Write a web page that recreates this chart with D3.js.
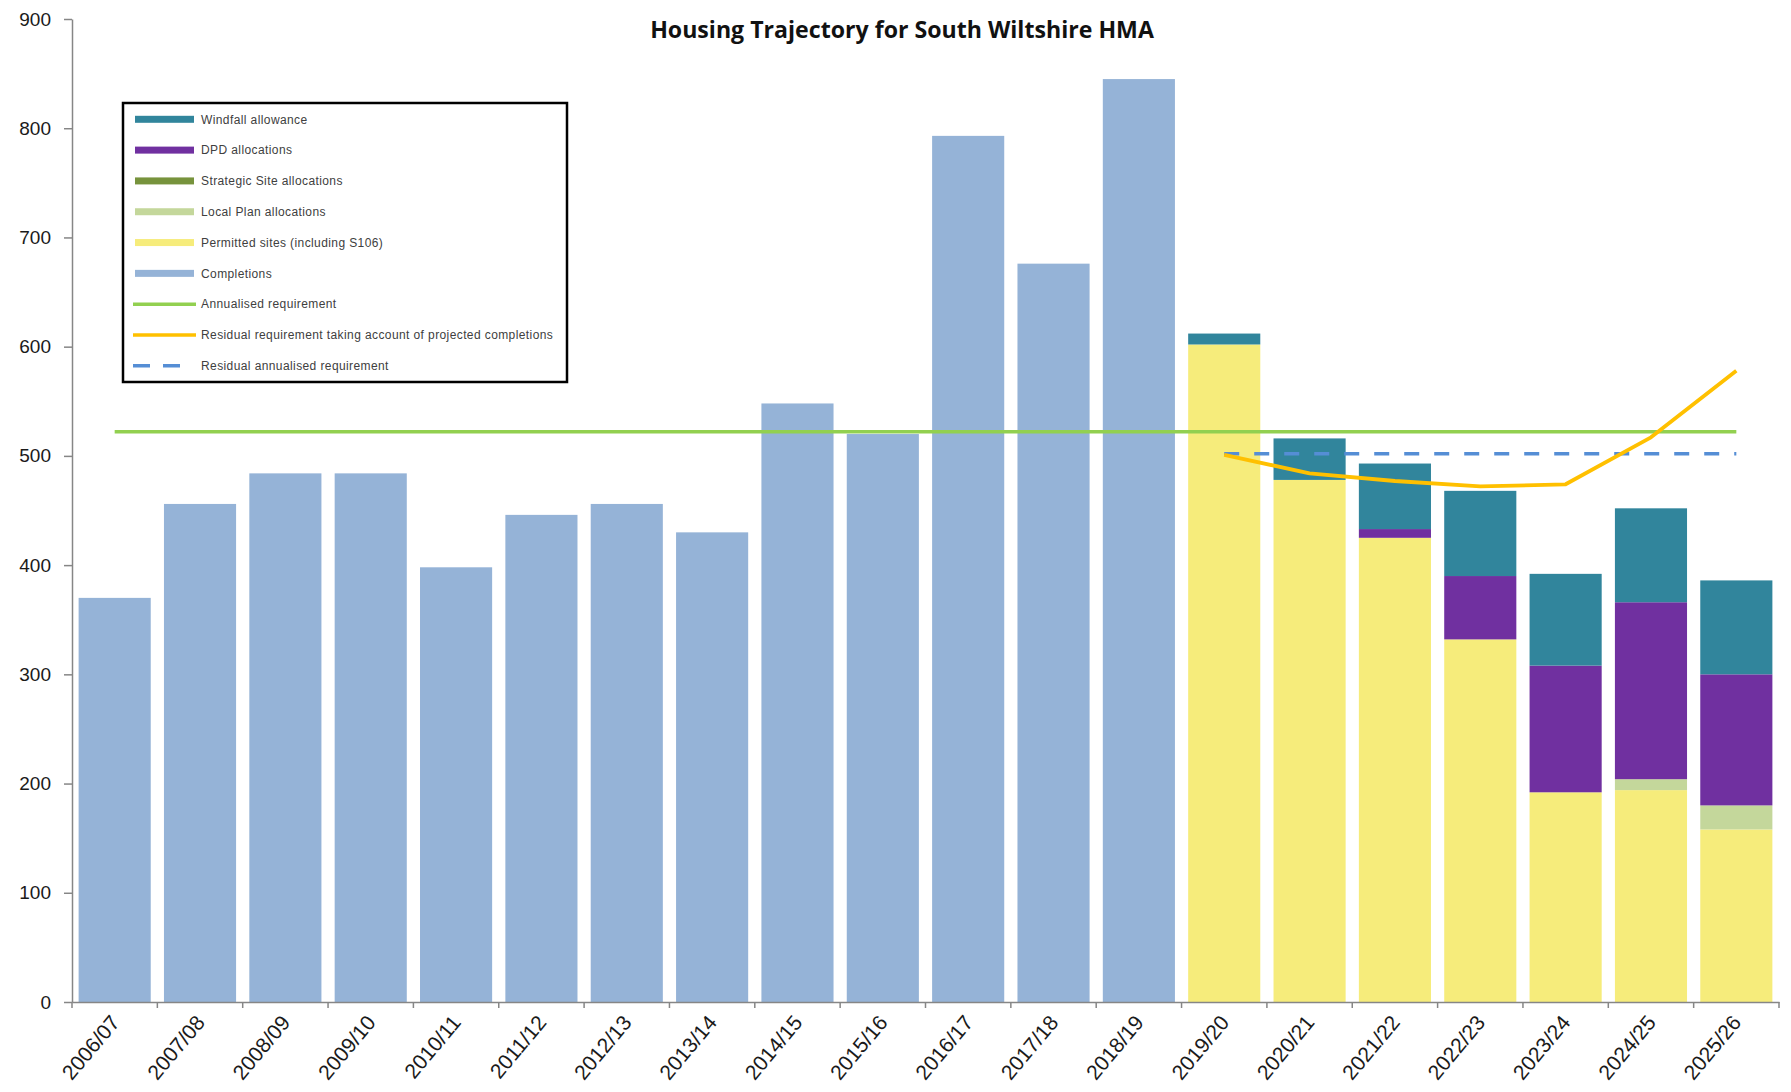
<!DOCTYPE html>
<html>
<head>
<meta charset="utf-8">
<title>Housing Trajectory for South Wiltshire HMA</title>
<script src="https://cdn.jsdelivr.net/npm/d3@7"></script>
<style>
  body { margin: 0; background: #ffffff; }
  svg { display: block; }
</style>
</head>
<body>
<svg id="chart" width="1791" height="1092"></svg>
<script>
// ---- Data -------------------------------------------------------------
const years = ["2006/07","2007/08","2008/09","2009/10","2010/11","2011/12","2012/13",
               "2013/14","2014/15","2015/16","2016/17","2017/18","2018/19","2019/20",
               "2020/21","2021/22","2022/23","2023/24","2024/25","2025/26"];

// Stacked bar components (dwellings per year)
const completions   = [370,456,484,484,398,446,456,430,548,520,793,676,845,0,0,0,0,0,0,0];
const permitted     = [0,0,0,0,0,0,0,0,0,0,0,0,0,602,478,425,332,192,194,158];
const localPlan     = [0,0,0,0,0,0,0,0,0,0,0,0,0,0,0,0,0,0,10,22];
const strategicSite = [0,0,0,0,0,0,0,0,0,0,0,0,0,0,0,0,0,0,0,0];
const dpd           = [0,0,0,0,0,0,0,0,0,0,0,0,0,0,0,8,58,116,162,120];
const windfall      = [0,0,0,0,0,0,0,0,0,0,0,0,0,10,38,60,78,84,86,86];

// Requirement lines
const annualised = [522,522,522,522,522,522,522,522,522,522,522,522,522,522,522,522,522,522,522,522];
const residualYears = ["2019/20","2020/21","2021/22","2022/23","2023/24","2024/25","2025/26"];
const residual           = [501,484,477,472,474,517,578];
const residualAnnualised = [502,502,502,502,502,502,502];

const yTicks = [0,100,200,300,400,500,600,700,800,900];

// ---- Series definitions (bottom to top) ----------------------------------
const barSeries = [
  { key: "completions",   label: "Completions",                      color: "#95B3D7", values: completions },
  { key: "permitted",     label: "Permitted sites (including S106)", color: "#F6EC7B", values: permitted },
  { key: "localPlan",     label: "Local Plan allocations",           color: "#C4D79B", values: localPlan },
  { key: "strategicSite", label: "Strategic Site allocations",       color: "#77933C", values: strategicSite },
  { key: "dpd",           label: "DPD allocations",                  color: "#7030A0", values: dpd },
  { key: "windfall",      label: "Windfall allowance",               color: "#31859C", values: windfall }
];

const legendItems = [
  { label: "Windfall allowance",                 type: "bar",  color: "#31859C" },
  { label: "DPD allocations",                    type: "bar",  color: "#7030A0" },
  { label: "Strategic Site allocations",         type: "bar",  color: "#77933C" },
  { label: "Local Plan allocations",             type: "bar",  color: "#C4D79B" },
  { label: "Permitted sites (including S106)",   type: "bar",  color: "#F6EC7B" },
  { label: "Completions",                        type: "bar",  color: "#95B3D7" },
  { label: "Annualised requirement",             type: "line", color: "#92D050" },
  { label: "Residual requirement taking account of projected completions", type: "line", color: "#FFC000" },
  { label: "Residual annualised requirement",    type: "dash", color: "#558ED5" }
];

// ---- Layout -------------------------------------------------------------
const svg = d3.select("#chart");
const plot = { left: 72, right: 1779, top: 19, bottom: 1002 };

const x = d3.scaleBand()
  .domain(years)
  .range([plot.left, plot.right])
  .paddingInner(0.155)
  .paddingOuter(0.0775);

const y = d3.scaleLinear()
  .domain([0, 900])
  .range([plot.bottom, plot.top]);

// ---- Stacked bars ---------------------------------------------------------
const table = years.map((yr, i) => {
  const row = { year: yr };
  barSeries.forEach(s => { row[s.key] = s.values[i]; });
  return row;
});
const stack = d3.stack().keys(barSeries.map(s => s.key));
const stacked = stack(table);

svg.append("g").attr("class", "bars")
  .selectAll("g")
  .data(stacked)
  .join("g")
    .attr("fill", (d, i) => barSeries[i].color)
  .selectAll("rect")
  .data(d => d.filter(p => p[1] - p[0] > 0))
  .join("rect")
    .attr("x", d => x(d.data.year))
    .attr("width", x.bandwidth())
    .attr("y", d => y(d[1]))
    .attr("height", d => y(d[0]) - y(d[1]));

// ---- Requirement lines -------------------------------------------------------
const center = yr => x(yr) + x.bandwidth() / 2;

svg.append("path")
  .datum(years.map((yr, i) => [yr, annualised[i]]))
  .attr("fill", "none")
  .attr("stroke", "#92D050")
  .attr("stroke-width", 3.5)
  .attr("d", d3.line().x(d => center(d[0])).y(d => y(d[1])));

svg.append("path")
  .datum(residualYears.map((yr, i) => [yr, residualAnnualised[i]]))
  .attr("fill", "none")
  .attr("stroke", "#558ED5")
  .attr("stroke-width", 3.5)
  .attr("stroke-dasharray", "15,15")
  .attr("d", d3.line().x(d => center(d[0])).y(d => y(d[1])));

svg.append("path")
  .datum(residualYears.map((yr, i) => [yr, residual[i]]))
  .attr("fill", "none")
  .attr("stroke", "#FFC000")
  .attr("stroke-width", 3.8)
  .attr("stroke-linejoin", "round")
  .attr("d", d3.line().x(d => center(d[0])).y(d => y(d[1])));

// ---- Axes ---------------------------------------------------------------
const axisColor = "#868686";

const yAxis = svg.append("g")
  .attr("transform", `translate(${plot.left},0)`)
  .call(d3.axisLeft(y).tickValues(yTicks).tickSize(8).tickPadding(13).tickSizeOuter(0));
yAxis.select(".domain").attr("stroke", axisColor).attr("stroke-width", 1.5);
yAxis.selectAll(".tick line").attr("stroke", axisColor).attr("stroke-width", 1.5);
yAxis.selectAll(".tick text")
  .attr("font-family", "'Liberation Sans', Arial, sans-serif")
  .attr("font-size", 19)
  .attr("fill", "#1a1a1a");

const xAxis = svg.append("g")
  .attr("transform", `translate(0,${plot.bottom})`)
  .call(d3.axisBottom(x).tickSize(0).tickSizeOuter(0));
xAxis.select(".domain").attr("stroke", axisColor).attr("stroke-width", 1.5);
xAxis.selectAll(".tick text")
  .attr("font-family", "'Liberation Sans', Arial, sans-serif")
  .attr("font-size", 21)
  .attr("fill", "#1a1a1a")
  .attr("text-anchor", "end")
  .attr("x", 0).attr("y", 0).attr("dy", 0)
  .attr("transform", "translate(6,21) rotate(-50)");

// Category boundary ticks on the x axis
const halfGap = x.paddingInner() * x.step() / 2;
const boundaries = years.map(yr => x(yr) - halfGap).concat([x(years[years.length - 1]) + x.bandwidth() + halfGap]);
svg.append("g").selectAll("line")
  .data(boundaries)
  .join("line")
    .attr("x1", d => d).attr("x2", d => d)
    .attr("y1", plot.bottom).attr("y2", plot.bottom + 6)
    .attr("stroke", axisColor).attr("stroke-width", 1.5);

// ---- Title -----------------------------------------------------------------
const title = svg.append("text")
  .attr("x", 902)
  .attr("y", 38)
  .attr("text-anchor", "middle")
  .attr("font-family", "'Open Sans', 'Liberation Sans', sans-serif")
  .attr("font-weight", "bold")
  .attr("font-size", 22)
  .attr("fill", "#111")
  .text("Housing Trajectory for South Wiltshire HMA");
const tw = title.node().getComputedTextLength();
title.attr("font-size", 22 * 504 / tw);

// ---- Legend ---------------------------------------------------------------
const legend = svg.append("g").attr("class", "legend");
legend.append("rect")
  .attr("x", 123).attr("y", 103)
  .attr("width", 444).attr("height", 279)
  .attr("fill", "#fff")
  .attr("stroke", "#000")
  .attr("stroke-width", 2.5);

const rowY = d3.scalePoint()
  .domain(legendItems.map(d => d.label))
  .range([119.3, 365.8]);

const rows = legend.selectAll("g.item")
  .data(legendItems)
  .join("g")
    .attr("class", "item")
    .attr("transform", d => `translate(0,${rowY(d.label)})`);

rows.filter(d => d.type === "bar").append("rect")
  .attr("x", 135).attr("y", -3.5)
  .attr("width", 59).attr("height", 7)
  .attr("fill", d => d.color);

rows.filter(d => d.type === "line").append("line")
  .attr("x1", 133).attr("x2", 196)
  .attr("stroke", d => d.color)
  .attr("stroke-width", 3.5);

rows.filter(d => d.type === "dash").append("line")
  .attr("x1", 133).attr("x2", 181)
  .attr("stroke", d => d.color)
  .attr("stroke-width", 3.5)
  .attr("stroke-dasharray", "17,13");

rows.append("text")
  .attr("x", 201)
  .attr("dy", "0.35em")
  .attr("font-family", "'Liberation Sans', Arial, sans-serif")
  .attr("font-size", 12)
  .attr("letter-spacing", 0.4)
  .attr("fill", "#404040")
  .text(d => d.label);
</script>
</body>
</html>
